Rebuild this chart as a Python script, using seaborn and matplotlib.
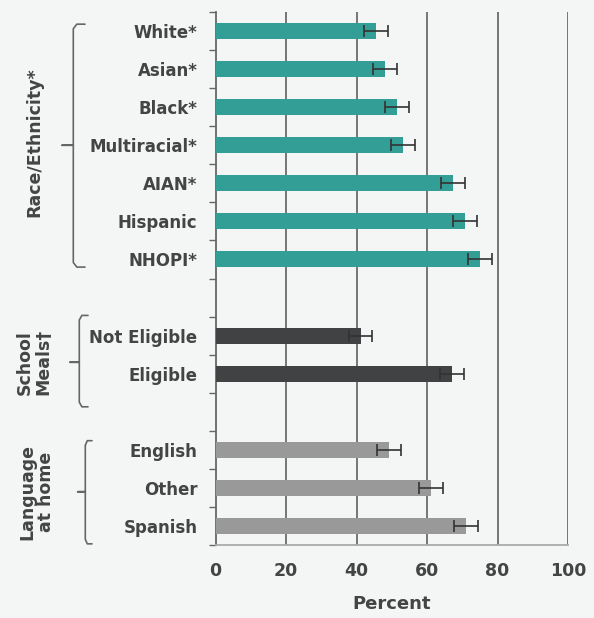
import numpy as np
import pandas as pd
import matplotlib
matplotlib.use("Agg")
import matplotlib.pyplot as plt
import matplotlib.transforms as mtransforms
from matplotlib.ticker import FixedLocator
import seaborn as sns

# ---- data ----
categories = ["White*", "Asian*", "Black*", "Multiracial*", "AIAN*", "Hispanic", "NHOPI*",
              "Not Eligible", "Eligible",
              "English", "Other", "Spanish"]
groups = ["race"] * 7 + ["meals"] * 2 + ["lang"] * 3
values = [45.5, 48.0, 51.4, 53.2, 67.4, 70.8, 75.0,
          41.2, 67.1,
          49.2, 61.1, 71.1]
err = [3.4, 3.4, 3.4, 3.4, 3.4, 3.4, 3.4,
       3.2, 3.3,
       3.4, 3.5, 3.5]
order = ["White*", "Asian*", "Black*", "Multiracial*", "AIAN*", "Hispanic", "NHOPI*", " ",
         "Not Eligible", "Eligible", "  ",
         "English", "Other", "Spanish"]
group_colors = {"race": "#339e96", "meals": "#404243", "lang": "#999999"}
x_ticks = [0, 20, 40, 60, 80, 100]

df = pd.DataFrame({"cat": categories, "group": groups, "value": values, "err": err})

BG = "#f4f6f6"
TXT = "#444444"
FONT = "DejaVu Sans"

sns.set_theme(style="white")
plt.rcParams["font.family"] = [FONT]

fig = plt.figure(figsize=(5.94, 6.18), dpi=100, facecolor=BG)
ax = fig.add_axes([215.5 / 594, 1 - 545 / 618, (568 - 215.5) / 594, (545 - 12) / 618])
ax.set_facecolor(BG)

sns.barplot(data=df, y="cat", x="value", hue="group", order=order,
            palette=group_colors, orient="h", width=0.42, dodge=False,
            legend=False, errorbar=None, saturation=1, ax=ax, zorder=3,
            linewidth=0, edgecolor="none")

# error bars
pos = [order.index(c) for c in df["cat"]]
ax.errorbar(df["value"], pos, xerr=df["err"], fmt="none", ecolor="#333333",
            elinewidth=1.2, capsize=4, capthick=1.2, zorder=4)

ax.set_xlim(0, 100)
ax.set_ylim(len(order) - 0.5, -0.5)
ax.set_xticks(x_ticks)
ax.set_xticklabels([str(t) for t in x_ticks], fontsize=12.5, fontweight="bold", color=TXT)
ax.tick_params(axis="x", length=4, width=1, color="#aaaaaa", pad=8, direction="out")
ax.set_yticks(range(len(order)))
ax.set_yticklabels(order, fontsize=12, fontweight="bold", color=TXT)
ax.tick_params(axis="y", which="major", length=0, pad=13)
ax.yaxis.set_minor_locator(FixedLocator(np.arange(-0.5, len(order), 1)))
ax.tick_params(axis="y", which="minor", left=True, length=5, width=1, color="#666666")

ax.set_ylabel("")
ax.set_xlabel("Percent", fontsize=13, fontweight="bold", color=TXT, labelpad=11)

for t in x_ticks[1:]:
    ax.axvline(t, color="#6b6b6b", lw=1.3, zorder=1)

for s in ["top", "right"]:
    ax.spines[s].set_visible(False)
ax.spines["left"].set_color("#666666")
ax.spines["left"].set_linewidth(1.3)
ax.spines["bottom"].set_color("#aaaaaa")
ax.spines["bottom"].set_linewidth(1.3)

# braces and group labels
tr = mtransforms.blended_transform_factory(fig.transFigure, ax.transData)

def brace(xv_px, xh_px, xt_px, y0, y1, ym):
    xv, xh, xt = xv_px / 594, xh_px / 594, xt_px / 594
    r = 0.12
    xs = [xh, xv + (xh - xv) * 0.3, xv, xv, xt, xv, xv, xv + (xh - xv) * 0.3, xh]
    ys = [y0, y0, y0 + r, ym, ym, ym, y1 - r, y1, y1]
    fig.add_artist(plt.Line2D(xs, ys, transform=tr, color="#666666", lw=1.2))

brace(73.3, 85, 62, -0.18, 6.2, 3.0)
brace(79.3, 88, 70, 7.47, 9.87, 8.7)
brace(85.3, 92, 77.7, 10.76, 13.47, 12.1)

lab_kw = dict(transform=tr, rotation=90, ha="center", va="center", fontsize=12.5,
              fontweight="bold", color=TXT, linespacing=1.05)
fig.text(34 / 594, 2.93, "Race/Ethnicity*", **lab_kw)
fig.text(34 / 594, 8.7, "School\nMeals†", **lab_kw)
fig.text(37 / 594, 12.1, "Language\nat home", **lab_kw)

fig.savefig("out.png", dpi=100, facecolor=BG)
